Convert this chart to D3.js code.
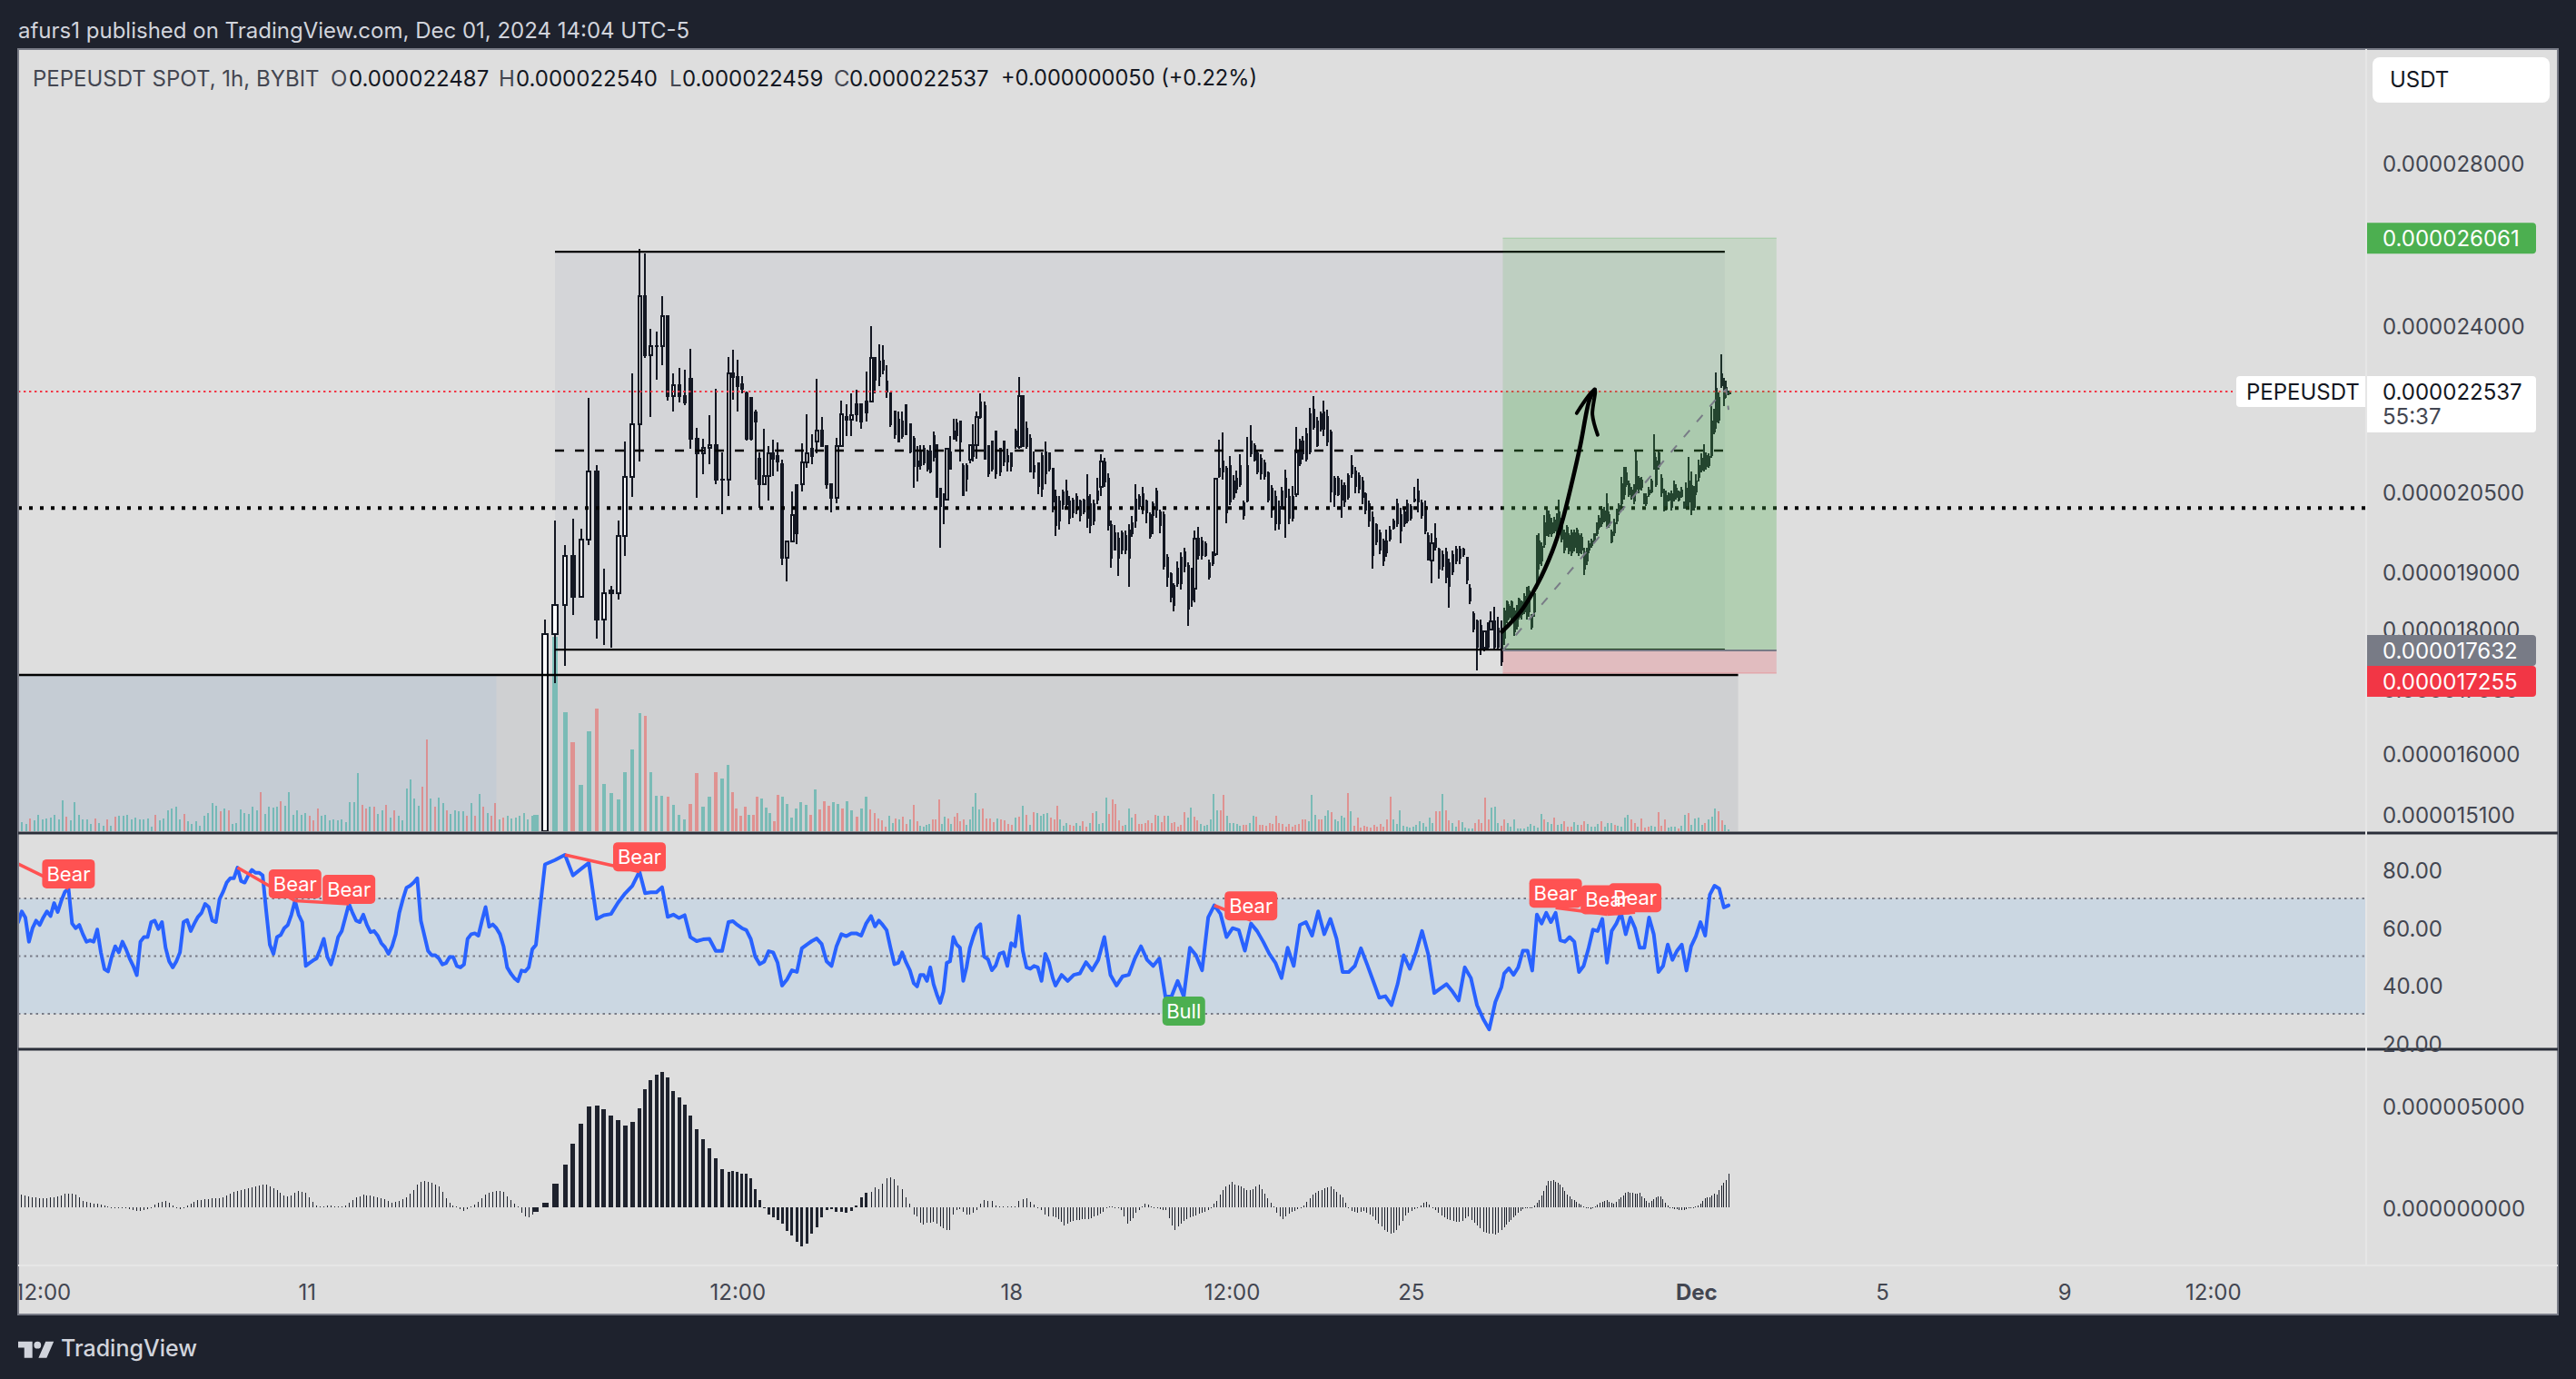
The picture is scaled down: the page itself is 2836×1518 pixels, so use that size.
<!DOCTYPE html>
<html><head><meta charset="utf-8">
<script src="https://cdnjs.cloudflare.com/ajax/libs/d3/7.8.5/d3.min.js"></script>
<style>html,body{margin:0;padding:0;background:#1e222d}svg{display:block}text{font-family:Inter,"Liberation Sans",sans-serif}</style>
</head><body><svg id="c" width="2836" height="1518"></svg>
<script>
// ---- prices are in units of 1e-8 ----
const candlesWide=[[1485,1816,1480,1791],[1791,1994,1709,1840],[1840,1948,1737,1928],[1928,1997,1824,1855],[1855,1979,1855,1958],[1958,2240,1948,2090],[2090,2102,1783,1815],[1815,1906,1772,1862],[1867,1875,1768,1862],[1862,1994,1850,1966],[1966,2150,1928,2079],[2079,2293,2040,2185],[2185,2580,2110,2466],[2466,2568,2326,2332],[2332,2392,2200,2353],[2353,2385,2280,2353],[2353,2466,2310,2420],[2420,2420,2235,2245],[2245,2292,2212,2268],[2268,2305,2230,2245],[2245,2300,2225,2230],[2281,2347,2135,2155],[2155,2178,2037,2125],[2125,2155,2083,2136],[2136,2203,2104,2142],[2142,2260,2065,2073],[2073,2128,2007,2073],[2073,2328,2042,2293],[2293,2345,2236,2285],[2285,2322,2212,2265],[2270,2287,2250,2260],[2250,2253,2151,2155],[2240,2240,2152,2155],[2210,2215,2073,2190],[2115,2128,2018,2065],[2065,2175,2064,2081],[2081,2140,2032,2126],[2126,2153,2080,2115],[2120,2147,2090,2110],[2103,2112,1912,1925],[1925,1955,1882,1955],[1955,2050,1955,2005],[2063,2063,1950,1971],[2064,2146,2050,2107],[2107,2205,2096,2126],[2135,2165,2103,2120],[2150,2282,2125,2172],[2172,2200,2140,2140],[2140,2140,2055,2065],[2065,2065,2010,2038],[2038,2157,2027,2140],[2140,2235,2140,2205],[2200,2227,2161,2195],[2195,2250,2161,2203],[2226,2258,2190,2205],[2226,2226,2175,2190],[2232,2296,2190,2209],[2232,2398,2232,2326],[2326,2326,2250,2279],[2318,2357,2265,2286],[2320,2354,2290,2300],[2275,2310,2240,2253],[2250,2250,2180,2185],[2212,2212,2155,2165],[2195,2212,2150,2150],[2190,2212,2155,2160],[2225,2225,2165,2165],[2185,2186,2125,2130],[2155,2160,2057,2100],[2110,2140,2070,2100],[2128,2142,2093,2102],[2135,2142,2102,2108],[2130,2133,2090,2095],[2130,2142,2085,2090],[2160,2170,2110,2118],[2142,2142,2040,2040],[2055,2055,1943,2022],[2045,2045,1987,2034],[2034,2135,2034,2135],[2128,2160,2095,2095],[2170,2197,2155,2155],[2187,2197,2150,2163],[2190,2190,2110,2150],[2100,2105,2043,2043],[2100,2105,2050,2075],[2112,2142,2105,2142],[2142,2185,2110,2120],[2142,2211,2115,2200],[2230,2250,2197,2200],[2222,2232,2115,2115],[2140,2140,2078,2085],[2150,2150,2090,2095],[2170,2170,2075,2085],[2135,2135,2080,2090],[2150,2150,2100,2110],[2120,2135,2090,2110],[2125,2125,2090,2100],[2170,2175,2135,2140],[2138,2285,2135,2245],[2245,2245,2140,2140],[2175,2190,2135,2140],[2155,2165,2087,2090],[2100,2130,2075,2090],[2105,2105,2045,2060],[2120,2128,2040,2055],[2128,2150,2065,2085],[2125,2125,2090,2095],[2095,2095,2010,2030]];
const candlesDense=[[2040,2054,1966,1985],[2030,2041,1977,1995],[2048,2054,2015,2025],[2050,2073,2015,2025],[2030,2041,1987,2000],[2032,2038,2000,2010],[2040,2046,2006,2015],[2030,2035,1993,2005],[2032,2036,2006,2012],[2040,2083,1980,2000],[2025,2044,1971,1985],[2025,2035,1986,1995],[2050,2076,2026,2035],[2058,2123,2042,2109],[2108,2117,2058,2070],[2075,2085,1976,1985],[1985,1995,1907,1925],[1970,1986,1938,1940],[1960,1972,1893,1925],[1970,1976,1932,1940],[1965,1976,1932,1940],[1975,1987,1872,1925],[1990,2003,1963,1970],[2035,2064,1980,1995],[2040,2044,2015,2022],[2045,2058,2006,2015],[2030,2035,1989,2010],[2005,2009,1960,1965],[2025,2030,1969,2005],[2050,2057,2000,2015],[2010,2015,1971,1985],[2005,2012,1903,1910],[1925,1932,1872,1890],[1895,1899,1846,1855],[1875,1880,1830,1840],[1905,1918,1872,1880],[1925,1935,1868,1880],[1935,1944,1899,1910],[1910,1917,1804,1835],[1905,1907,1838,1850],[1870,1976,1846,1960],[1960,1983,1921,1930],[1955,1963,1921,1930],[1950,1955,1927,1930],[1915,1921,1885,1890],[1930,1937,1910,1915],[1932,2076,1928,2075],[2095,2153,2076,2080],[2110,2168,2073,2090],[2095,2100,1990,2010],[2100,2120,2024,2030],[2070,2082,2035,2040],[2075,2091,2047,2055],[2100,2124,2058,2065],[2028,2032,1996,2005],[2100,2158,2029,2032],[2150,2183,2118,2125],[2140,2146,2109,2112],[2125,2130,2083,2090],[2115,2124,2073,2085],[2105,2112,2073,2080],[2085,2089,2029,2035],[2055,2062,2000,2015],[2040,2052,1976,1990],[2020,2032,1977,1990],[2050,2058,2015,2020],[2075,2093,1962,2040],[2040,2055,1987,2000],[2040,2060,1992,2000],[2045,2180,2040,2128],[2150,2155,2100,2105],[2150,2161,2112,2125],[2165,2177,2109,2115],[2205,2219,2124,2130],[2215,2244,2173,2180],[2190,2200,2139,2142],[2205,2211,2170,2175],[2210,2235,2161,2175],[2200,2216,2141,2150],[2168,2173,2029,2050],[2075,2081,2020,2045],[2075,2081,2041,2045],[2060,2073,1999,2035],[2060,2067,2020,2030],[2080,2085,2035,2040],[2100,2121,2076,2085],[2090,2099,2047,2060],[2080,2088,2047,2055],[2070,2079,2026,2040],[2045,2049,2006,2015],[2025,2032,1983,1995],[2000,2012,1906,1930],[1985,1989,1949,1955],[1970,1977,1932,1940],[1955,1960,1911,1920],[1955,1977,1927,1935],[1975,1984,1955,1960],[1992,1997,1977,1980],[2025,2036,1983,1990],[2005,2018,1951,1975],[2010,2015,1983,1990],[2025,2034,1989,1995],[2020,2026,1994,2000],[2035,2058,2029,2032],[2050,2075,2009,2030],[2028,2035,1997,2005],[2020,2032,1968,1975],[1965,1972,1920,1922],[1920,1970,1880,1952],[1960,1990,1938,1945],[1940,1944,1888,1905],[1930,1938,1902,1910],[1935,1944,1880,1890],[1915,1924,1836,1875],[1930,1939,1894,1900],[1940,1947,1913,1920],[1940,1947,1913,1925],[1940,1944,1927,1932],[1925,1927,1877,1885],[1870,1877,1843,1848],[1825,1830,1794,1800],[1812,1816,1730,1770],[1805,1815,1755,1768],[1768,1797,1762,1796],[1805,1811,1765,1770],[1798,1829,1797,1812],[1812,1838,1765,1770],[1800,1821,1765,1770],[1790,1814,1738,1745]];
const candlesRally=[[1830,1836,1772,1785],[1845,1849,1810,1815],[1838,1842,1815,1820],[1845,1849,1810,1818],[1830,1836,1788,1795],[1835,1841,1799,1805],[1850,1854,1815,1820],[1845,1849,1815,1825],[1855,1862,1825,1830],[1865,1872,1815,1825],[1865,1875,1820,1830],[1822,1825,1799,1803],[1860,1867,1820,1830],[1945,1967,1870,1880],[1955,1970,1904,1915],[1945,1954,1910,1920],[1990,2005,1943,1950],[2005,2020,1966,1975],[2005,2014,1963,1970],[1990,2000,1963,1970],[1995,2001,1971,1975],[2000,2008,1968,1975],[2010,2034,1977,1985],[1990,2000,1954,1960],[1970,1977,1934,1940],[1980,1985,1943,1950],[1965,1971,1931,1938],[1970,1977,1928,1935],[1970,1977,1936,1945],[1975,1980,1934,1942],[1965,1971,1928,1935],[1962,1971,1931,1940],[1935,1943,1894,1905],[1938,1943,1912,1920],[1950,1957,1934,1940],[1955,1960,1943,1948],[1968,1971,1951,1955],[1985,1991,1966,1970],[1998,2005,1977,1982],[2015,2022,1983,1990],[2012,2020,1991,1995],[2025,2046,1983,1990],[2005,2011,1980,1985],[1972,1977,1951,1955],[1990,1997,1966,1972],[2010,2017,1988,1995],[2022,2028,2005,2010],[2065,2078,2020,2028],[2080,2098,2034,2045],[2085,2098,2058,2065],[2065,2072,2040,2045],[2052,2058,2034,2040],[2058,2064,2025,2032],[2110,2132,2046,2055],[2075,2081,2046,2055],[2072,2078,2052,2058],[2042,2046,2025,2030],[2040,2046,2022,2028],[2052,2058,2040,2045],[2070,2075,2046,2050],[2125,2164,2093,2100],[2110,2119,2058,2065],[2125,2132,2093,2100],[2075,2084,2040,2048],[2045,2055,2011,2018],[2042,2052,2014,2020],[2045,2049,2031,2035],[2045,2052,2014,2020],[2060,2072,2031,2038],[2055,2064,2034,2040],[2048,2052,2031,2035],[2052,2058,2037,2042],[2028,2031,2017,2020],[2055,2067,2017,2022],[2070,2119,2017,2030],[2060,2090,2005,2015],[2050,2061,2014,2020],[2070,2084,2043,2050],[2100,2113,2070,2078],[2115,2125,2087,2092],[2125,2143,2090,2095],[2120,2128,2093,2100],[2118,2125,2096,2102],[2190,2223,2116,2122],[2210,2217,2164,2170],[2260,2295,2176,2190],[2240,2252,2186,2195],[2290,2335,2261,2268],[2270,2284,2223,2240],[2262,2278,2240,2248],[2249,2254,2246,2254]];

// volume: sign gives direction (negative = down bar)
const volumeLeft=[38,30,25,-42,35,55,40,42,45,55,40,102,-48,35,95,55,40,38,25,-42,28,18,-40,18,-48,52,52,55,40,45,40,38,42,15,-55,35,42,68,75,80,38,-58,33,25,32,18,50,60,92,85,-65,75,-70,25,28,72,60,58,80,68,-128,58,80,78,82,-98,85,128,55,68,55,60,-50,-35,-75,50,55,35,40,35,40,30,95,95,192,-88,-75,80,-80,58,68,-88,45,-68,50,35,142,172,108,85,-148,-302,108,-82,112,92,-68,58,68,65,65,-50,92,-52,122,-82,60,-50,-92,40,-45,50,42,45,50,60,40,52,55];
const volumeWide=[567,642,393,-293,153,330,-405,155,125,105,195,270,390,-380,195,117,117,-113,87,55,40,-90,-193,80,113,-195];
const volumeMid=[175,220,-130,-75,-52,-82,55,-55,-115,108,78,60,-33,-120,115,90,45,75,95,88,-55,138,-72,-100,-85,96,90,-75,100,70,-48,75,115,-72,-60,-42,-35,-15,52,28,-42,38,-48,-25,40,-88,-32,18,15,20,25,-40,-38,-105,25,48,-42,25,-48,-60,-32,-40,22,38,82,125,72,-75,-42,-42,-30,42,-40,-35,-25,-20,45,-48,85];
const volumeDense=[-55,22,-62,60,52,56,60,-45,-38,-85,40,18,28,-22,-18,28,18,-32,-15,28,-60,65,25,28,110,-58,-105,-90,-35,-18,22,75,45,-58,-25,-25,-28,-35,-28,-55,52,-30,-52,50,-28,-30,-15,-22,-62,45,78,-48,-35,25,18,20,40,122,70,-68,-120,50,28,28,25,18,-22,-20,28,52,-48,-20,-20,-18,-28,-25,-52,-28,-25,-15,-25,-15,-20,-25,-38,-40,32,120,55,-38,-38,52,68,-62,38,32,52,45,-125,65,-18,-45,-12,-18,-15,-12,-20,-15,-24,-14,-40,-115,38,25,68,18,15,12,15,20,32,28,14,45,28,-65,-65,122,-70,-35,28,15,-35,30,12,10,8,-28,-40,-28,-110,-38,78,80,28,-18];
const volumeRally=[-38,28,14,38,10,10,10,15,25,18,12,58,-38,30,25,-45,22,25,-32,-15,-15,30,22,-22,-32,25,14,15,25,-32,15,28,28,-22,18,15,45,55,-38,-28,15,-42,-12,-15,18,15,-62,-18,-38,12,14,15,-10,18,55,-60,22,42,45,20,-28,38,48,75,-65,-35,20,5];

// RSI samples
const rsiLeft=[61.8,65.5,63.4,55,59.7,62.3,60.8,63.4,65.5,63.9,68.4,65.3,69.2,72.3,73.4,61.3,59.7,60.8,57.6,55,55.5,55,59.2,51.3,45.5,44.7,49.7,53.4,51.3,55,52.4,49.2,46.6,43.4,55,56.6,56.6,61.8,62.3,59.4,61.8,52.9,48.2,46.1,48.2,51.3,61.8,62.5,58.7,61.3,63.6,65,68.1,67,62.3,61.8,69.7,72.3,75.5,77,77,80.7,76,75.5,78,79.9,78.9,78.9,78,65.5,53.9,50.8,56.6,57.3,59.7,60.8,64.4,69.2,64.4,61.8,46.6,47.6,48.5,49.2,52.4,56,49.7,47.1,51.3,56.6,58.7,63.4,68.1,65,62.3,61.8,64.4,60.8,58.3,58.7,57.1,54.5,53.1,50.8,53.4,57.6,65,69.7,73.7,74.4,75.5,77,62.3,57.1,51.8,50.3,50.3,49.2,47.1,47.6,49.7,49.7,46.6,46.1,47.1,56,57.6,57.9,57.1,62.3,67,60.2,61,59.7,57.6,53.4,46.1,44,42.4,41.3,45,44.7,46.1,52.4,53.9];
const rsiWide=[81.8,83.3,85.1,78,80.2,82.3,62.9,64.2,64.6,68.6,71.8,74.4,79.3,71.8,72.1,72.1,73.9,63.6,64.4,63.2,64.2,56.6,55.2,55.8,56,51.8,51.8,61.8,62.1,60.8,59.7,59,55.9,49.8,47.2,48.1,51.7,51.3,47.7,39.8,41.9,45.1,44.5,52.7,54,55.2,56.1,54.2,48.2,46.6,53.4,57.6,56.9,57.9,57.9,57.1,61.3,63.9,60.3,62.3,60.8,59,52.9,47.2,47.7,51.3,47.9,45.1,40.6,39.5,43.5,43.5,41.4,46.1,40.3,36.7,33.8,37.7,47.7,48.2,56.6,54,52.9,41.4,46.1,52.9,56.6,59.7,61.1,49.8,48.9,45.1,46.8,50.8,51.3,46.6,54.5,53.4,63.9,51.9,46.1,45.6,46.6,46.1,41.4,50.8,47.7,42.4];
const rsiDense=[39.8,43.5,41.4,43.5,44,47.9,45.1,48.7,56.6,43.5,39.8,43,43.5,49.2,53.4,48.7,46.6,49.2,35.9,36.1,41.4,36.1,52.9,50.3,45.1,63.4,67.6,64.7,56.6,59.7,59,51.9,61.3,58.7,55,50.8,47.7,42.4,52.9,46.6,60.8,61.8,57.1,65.5,57.6,62.9,56.1,44.5,44.5,46.6,52.7,47.2,41.4,35.6,36.1,33,40.3,50.3,45.6,51.3,58.7,50.8,37.2,38.8,40.3,37.7,34.6,46.1,42.4,33,28.3,24.6,34.1,39.3];
const rsiRally=[44,45.8,43.5,46.1,51.9,51.9,45,64.4,61.3,65,61.8,65,55.5,55,56.6,55,44.5,46.6,52.4,59.2,58.7,62.9,47.7,58.7,61.3,65,57.6,63.4,59.7,52.9,52.9,63.4,57.6,44.5,46.6,54,48.7,51.9,54,45,53.4,56.9,61.8,57.1,71.3,74.4,73.4,66.9,67.6];
const rsiBandLevels=[70,50,30];
// divergence pivots: [sample, rsi] pairs
const signalKinds=["Bear","Bear","Bear","Bear","Bear","Bull","Bear","Bear","Bear"];
const signalSamples=[14,77,92,157,285,274,338,349,355];
const signalLevels=[73.5,70,68.1,79.4,62.4,36,66.8,64.5,65.2];
const divergenceFrom=[[0,82],[61,80.7],[77,69.2],[147,85.1],[279,67.6],[338,66.8],[349,64.5]];
const divergenceTo=[[14,73.4],[77,69.2],[92,68.1],[157,79.3],[285,62.4],[349,64.5],[355,65.2]];

// MACD histogram (units of 1e-8)
const macdLeft=[71,62,58,54,49,49,45,45,45,49,49,54,58,67,67,67,62,49,31,27,22,18,18,13,9,4,0,-4,-4,-4,-4,-9,-13,-18,-18,-13,-9,-4,13,22,27,31,22,9,-4,-9,-4,9,18,27,36,36,40,40,45,45,45,49,58,67,76,80,85,89,94,98,103,107,112,112,103,94,85,71,58,54,58,71,80,76,71,49,27,9,4,4,9,9,4,4,4,9,22,36,49,54,62,58,58,54,49,45,40,31,22,27,31,40,49,67,85,112,125,129,125,120,112,103,76,45,22,9,4,-9,-18,-9,4,13,27,45,62,71,76,80,80,76,54,36,18,4,-27,-45,-49,-36,-22];
const macdWide=[22,116,210,312,410,495,500,482,452,430,401,419,486,580,624,653,664,638,571,538,505,449,384,334,288,241,187,174,178,173,166,164,144,90,36,-5,-34,-49,-61,-79,-116,-138,-168,-190,-178,-131,-98,-49,-12,-9,-22,-22,-27,-19,8,48,70,76,97,89,114,144,147,137,107,88,48,18,-36,-45,-76,-85,-76,-76,-71,-80,-94,-103,-112,-112,-36,-13,-9,-22,-36,-36,-27,-13,18,36,31,31,9,4,4,4,4,4,31,40,45,27,13,-4,-13,-36,-45,-45];
const macdDense=[-49,-58,-71,-89,-80,-71,-67,-62,-62,-58,-58,-58,-54,-45,-40,-31,-22,-4,4,4,2,-4,-13,-45,-80,-67,-54,-27,-13,4,18,13,4,0,-4,-9,-13,-13,-54,-89,-112,-94,-80,-67,-58,-49,-45,-40,-31,-27,-22,-13,0,18,31,62,85,103,112,125,112,107,103,94,85,85,89,103,112,89,67,45,22,4,-27,-45,-58,-45,-31,-22,-18,-9,-4,9,27,45,62,71,80,85,94,98,103,89,76,62,49,22,0,-18,-22,-27,-22,-18,-27,-36,-45,-62,-80,-94,-112,-120,-129,-125,-112,-89,-67,-40,-27,-18,-9,-4,9,22,27,13,-4,-13,-27,-40,-49,-58,-62,-67,-71,-71,-67,-54,-45,-62,-76,-89,-103,-120,-125,-129,-129,-134,-125,-112];
const macdRally=[-98,-85,-71,-62,-49,-40,-27,-18,-9,-4,-4,0,0,9,22,36,58,80,107,129,129,134,125,120,112,98,80,62,54,40,36,27,18,13,4,0,-4,-9,-4,4,13,22,27,31,36,27,22,18,27,40,49,58,71,76,71,71,67,67,71,54,45,31,22,31,40,49,54,54,40,22,9,0,-4,-9,-9,-13,-13,-13,-9,-4,-4,0,4,9,18,31,45,49,49,58,67,62,85,107,120,134,165];

const priceTicks=[2800,2400,2050,1900,1800,1700,1600,1510];
const rsiTicks=[80,60,40,20];
const macdTicks=[500,0];
const timeTickLabels=["12:00","11","12:00","18","12:00","25","Dec","5","9","12:00"];
const ENTRY=1763.2, TARGET=2606.1, STOP=1725.5, LAST=2253.7;
const RANGE_TOP=2573, RANGE_BOTTOM=1764.5, RANGE_MID=2131, MAJOR=2018, LOWER=1722.6;
const arrowBars=[-0.8,6.7,13.4,19.3,23,27.3,30.6,34.2,36.3];
const arrowPrices=[1795,1830,1878,1937,1988,2070,2143,2236,2258];
const arrowHeadBars=[29.1,36.3,35.4,37.5];
const arrowHeadPrices=[2208,2258,2205,2163];

// ---- sections ----
const leftN=145, wideN=candlesWide.length, denseN=candlesDense.length, rallyN=candlesRally.length;
const wideStart=leftN, denseStart=wideStart+wideN, rallyStart=denseStart+denseN, lastBar=rallyStart+rallyN-1;
const c=k=>wideStart+k-1;
const x=d3.scaleLinear()
 .domain([0,144,c(1),c(3),c(7),c(13),c(22),c(28),c(40),c(58),c(69),c(88),c(100),c(108),denseStart,rallyStart-1,rallyStart,lastBar,lastBar+300])
 .range([20,590,600,622,657,704,760,802,861,959,1006,1075,1126,1159,1162,1653,1656,1903,2695]);
const yP=d3.scaleLog().domain([1510,2800]).range([896,179]);
const yR=d3.scaleLinear().domain([30,70]).range([1116,989]);
const yM=d3.scaleLinear().domain([0,500]).range([1329,1217]);
const yV=d3.scaleLinear().domain([0,642]).range([915,701]);
const spread=(arr,a,b)=>arr.map((v,i)=>({bar:arr.length>1?a+(b-a)*i/(arr.length-1):a,v}));
const svg=d3.select("#c");
const DARK="#131722";
svg.append("rect").attr("width",2836).attr("height",1518).attr("fill","#1e222d");
svg.append("rect").attr("x",20).attr("y",54).attr("width",2796).attr("height",1393).attr("fill","#dedede").attr("stroke","#787b86").attr("stroke-width",2);
const defs=svg.append("defs");
defs.append("clipPath").attr("id","main").append("rect").attr("x",21).attr("y",55).attr("width",2584).attr("height",860);
defs.append("clipPath").attr("id","plot").append("rect").attr("x",21).attr("y",55).attr("width",2584).attr("height",1337);
defs.append("clipPath").attr("id","time").append("rect").attr("x",21).attr("y",1394).attr("width",2794).attr("height",52);
const main=svg.append("g").attr("clip-path","url(#main)");

// boxes
const rectP=(g,b0,b1,p0,p1,fill,op)=>g.append("rect").attr("x",x(b0)).attr("width",x(b1)-x(b0)).attr("y",yP(p0)).attr("height",yP(p1)-yP(p0)).attr("fill",fill).attr("fill-opacity",op==null?1:op);
rectP(main,c(2),lastBar-1.5,RANGE_TOP,RANGE_BOTTOM,"#d4d5d8");
main.append("rect").attr("x",x(0)).attr("width",x(lastBar+4)-x(0)).attr("y",yP(LOWER)).attr("height",915-yP(LOWER)).attr("fill","#cfd0d2");
main.append("rect").attr("x",x(0)).attr("width",x(133)-x(0)).attr("y",yP(LOWER)).attr("height",915-yP(LOWER)).attr("fill","#c5ccd4");

// volume
const volData=[...spread(volumeLeft,0,144),...volumeWide.map((v,i)=>({bar:c(i+1),v})),...spread(volumeMid,c(27),c(100)),...spread(volumeDense,c(101),rallyStart-1),...spread(volumeRally,rallyStart,lastBar)];
main.append("g").attr("shape-rendering","crispEdges").selectAll("rect").data(volData).join("rect").each(function(d,i){
  const nx=volData[Math.min(i+1,volData.length-1)], s=Math.abs(x(nx.bar)-x(d.bar))||2;
  const w=Math.max(2,Math.round(Math.min(7,s*0.56)));
  d3.select(this).attr("x",Math.round(x(d.bar)-w/2)).attr("width",w).attr("y",yV(Math.abs(d.v))).attr("height",915-yV(Math.abs(d.v)))
   .attr("fill",d.v>=0?"#26a69a":"#ef5350").attr("fill-opacity",0.5);
});

// candles
const allCandles=[...candlesWide,...candlesDense,...candlesRally];
const cg=main.append("g").attr("shape-rendering","crispEdges");
allCandles.forEach((r,i)=>{
  const b=wideStart+i,[o,h,l,cl]=r,up=cl>o;
  const s=i<allCandles.length-1?x(b+1)-x(b):x(b)-x(b-1);
  let w=Math.min(8,s*0.72); w=up?Math.max(i<wideN?Math.min(5,w+2):5,w):Math.max(3.2,w);
  w=Math.round(w);
  const cx=Math.round(x(b));
  cg.append("rect").attr("x",cx-1).attr("width",2).attr("y",yP(h)).attr("height",yP(l)-yP(h)).attr("fill",DARK);
  const top=yP(Math.max(o,cl)),bot=yP(Math.min(o,cl));
  const bx=cx-Math.floor(w/2);
  cg.append("rect").attr("x",bx).attr("width",w).attr("y",top-1).attr("height",Math.max(2,bot-top+2)).attr("fill",DARK);
  if(up&&bot-top>3&&w>=5) cg.append("rect").attr("x",bx+2).attr("width",w-4).attr("y",top+1).attr("height",bot-top-2).attr("fill","#fff");
});

// horizontal drawings
const hLine=(b0,b1,p,col,w,dash)=>{const l=main.append("line").attr("x1",x(b0)).attr("x2",x(b1)).attr("y1",yP(p)).attr("y2",yP(p)).attr("stroke",col).attr("stroke-width",w);if(dash)l.attr("stroke-dasharray",dash);return l;};
hLine(c(2),lastBar-1.5,RANGE_TOP,"#000",2.4);
hLine(c(2),lastBar-1.5,RANGE_BOTTOM,"#000",2.4);
hLine(c(2),lastBar-1.5,RANGE_MID,"#000",2.4,"10 12");
hLine(0,lastBar+300,MAJOR,"#000",4,"4 8");
hLine(0,lastBar+4,LOWER,"#000",2.4);
main.append("line").attr("x1",20).attr("x2",2458).attr("y1",yP(LAST)).attr("y2",yP(LAST)).attr("stroke","#f23645").attr("stroke-width",2.2).attr("stroke-dasharray","2.4 3.6");

// long position tool
rectP(main,rallyStart-0.5,lastBar+20,TARGET,ENTRY,"#4caf50",0.165);
rectP(main,rallyStart-0.5,lastBar+20,LAST,ENTRY,"#4caf50",0.165);
rectP(main,rallyStart-0.5,lastBar+20,ENTRY,STOP,"#f23645",0.2);
main.append("line").attr("x1",x(rallyStart-0.5)).attr("x2",x(lastBar+20)).attr("y1",yP(ENTRY)).attr("y2",yP(ENTRY)).attr("stroke","#787b86").attr("stroke-width",2);
main.append("line").attr("x1",x(rallyStart-0.5)).attr("x2",x(lastBar+20)).attr("y1",yP(TARGET)).attr("y2",yP(TARGET)).attr("stroke","#4caf50").attr("stroke-opacity",.25).attr("stroke-width",1.5);
main.append("line").attr("x1",x(rallyStart-0.5)).attr("x2",x(lastBar+20)).attr("y1",yP(STOP)).attr("y2",yP(STOP)).attr("stroke","#f23645").attr("stroke-opacity",.2).attr("stroke-width",1.5);
main.append("path").attr("d",d3.line().x(d=>x(d[0])).y(d=>yP(d[1]))([[rallyStart-0.5,ENTRY],[lastBar-3,2250],[lastBar-1,2258],[lastBar,2215]])).attr("fill","none").attr("stroke","#787b86").attr("stroke-width",2).attr("stroke-dasharray","10 12");

// hand-drawn arrow
const ln=d3.line().x(d=>x(rallyStart+d[0])).y(d=>yP(d[1]));
main.append("path").attr("d",ln.curve(d3.curveCatmullRom)(arrowBars.map((b,i)=>[b,arrowPrices[i]]))).attr("fill","none").attr("stroke","#000").attr("stroke-width",4.6).attr("stroke-linecap","round");
main.append("path").attr("d",ln.curve(d3.curveCatmullRom)(arrowHeadBars.map((b,i)=>[b,arrowHeadPrices[i]]))).attr("fill","none").attr("stroke","#000").attr("stroke-width",4).attr("stroke-linecap","round").attr("stroke-linejoin","round");

// panes
const plot=svg.append("g").attr("clip-path","url(#plot)");
plot.append("rect").attr("x",20).attr("width",2585).attr("y",yR(70)).attr("height",yR(30)-yR(70)).attr("fill","#cbd7e2");
rsiBandLevels.forEach(v=>plot.append("line").attr("x1",20).attr("x2",2605).attr("y1",yR(v)).attr("y2",yR(v)).attr("stroke","#787b86").attr("stroke-width",2).attr("stroke-dasharray","2.5 4"));
const rsiPts=[...spread(rsiLeft,0,144),...rsiWide.map((v,i)=>({bar:c(i+1),v})),...spread(rsiDense,denseStart,rallyStart-1),...spread(rsiRally,rallyStart,lastBar)];
plot.append("path").attr("d",d3.line().x(d=>x(d.bar)).y(d=>yR(d.v))(rsiPts)).attr("fill","none").attr("stroke","#2962ff").attr("stroke-width",4).attr("stroke-linejoin","round").attr("stroke-linecap","round");
divergenceFrom.forEach((f,i)=>{const t=divergenceTo[i];
  plot.append("line").attr("x1",x(rsiPts[f[0]].bar)).attr("y1",yR(f[1])).attr("x2",x(rsiPts[t[0]].bar)).attr("y2",yR(t[1])).attr("stroke","#ff5252").attr("stroke-width",3.6);});
const sigBox=i=>{const k=signalKinds[i],bull=k==="Bull",w=bull?47:58,h=32;return {k,bull,w,h,cx:x(rsiPts[signalSamples[i]].bar),yTop:bull?yR(signalLevels[i]):yR(signalLevels[i])-h};};
signalKinds.forEach((k,i)=>{const b=sigBox(i);
  plot.append("rect").attr("x",b.cx-b.w/2).attr("y",b.yTop).attr("width",b.w).attr("height",b.h).attr("rx",5).attr("fill",b.bull?"#4caf50":"#ff5252");});
signalKinds.forEach((k,i)=>{const b=sigBox(i);
  plot.append("text").attr("x",b.cx).attr("y",b.yTop+b.h/2).attr("dy",".36em").attr("text-anchor","middle").attr("font-size",22).attr("fill","#fff").text(k);});
// MACD histogram
const macdPts=[...spread(macdLeft,0,144),...macdWide.map((v,i)=>({bar:c(i+1),v})),...spread(macdDense,denseStart,rallyStart-1),...spread(macdRally,rallyStart,lastBar)];
plot.append("g").attr("shape-rendering","crispEdges").selectAll("rect").data(macdPts).join("rect").each(function(d,i){
  const nx=macdPts[Math.min(i+1,macdPts.length-1)],s=Math.abs(x(nx.bar)-x(d.bar))||2,w=s<4.6?1:Math.round(s*0.62);
  d3.select(this).attr("x",Math.round(x(d.bar)-w/2)).attr("width",w).attr("y",Math.min(yM(d.v),yM(0))).attr("height",Math.max(1,Math.abs(yM(d.v)-yM(0)))).attr("fill","#1e222d");
});

// separators
[917,1155].forEach(y=>svg.append("line").attr("x1",20).attr("x2",2816).attr("y1",y).attr("y2",y).attr("stroke","#2a2e39").attr("stroke-width",3));
svg.append("line").attr("x1",20).attr("x2",2816).attr("y1",1393).attr("y2",1393).attr("stroke","#e6e6e6").attr("stroke-width",2);
svg.append("line").attr("x1",2605).attr("x2",2605).attr("y1",54).attr("y2",1393).attr("stroke","#e6e6e6").attr("stroke-width",2);

// axes
const axisStyle=g=>{g.select(".domain").remove();g.selectAll("text").attr("font-size",24).attr("fill","#434651").attr("font-family","Inter").attr("dy",".4em");};
const priceFmt=d=>(d*1e-8).toFixed(9);
svg.append("g").attr("transform","translate(2623,0)").call(d3.axisRight(yP).tickValues(priceTicks).tickSize(0).tickPadding(0).tickFormat(priceFmt)).call(axisStyle);
svg.append("g").attr("transform","translate(2623,0)").call(d3.axisRight(yR).tickValues(rsiTicks).tickSize(0).tickPadding(0).tickFormat(d=>d.toFixed(2))).call(axisStyle);
svg.append("g").attr("transform","translate(2623,0)").call(d3.axisRight(yM).tickValues(macdTicks).tickSize(0).tickPadding(0).tickFormat(priceFmt)).call(axisStyle);
const timeTickBars=[6.8,80.3,c(30),c(97),denseStart+50.6,denseStart+102,rallyStart+77,lastBar+64,lastBar+140,lastBar+202];
const tg=svg.append("g").attr("clip-path","url(#time)").append("g").attr("transform","translate(0,1422)")
 .call(d3.axisBottom(x).tickValues(timeTickBars).tickSize(0).tickPadding(0).tickFormat((d,i)=>timeTickLabels[i])).call(axisStyle);
tg.selectAll("text").attr("y",0).attr("dy",".36em").attr("font-weight",(d,i)=>timeTickLabels[i]==="Dec"?700:400);

// price labels
const tag=(p,nudge,fill,txt,tc)=>{const yc=yP(p)+nudge;
  svg.append("path").attr("d",`M2606 ${yc-17}H2788a4 4 0 0 1 4 4V${yc+13}a4 4 0 0 1 -4 4H2606Z`).attr("fill",fill);
  svg.append("text").attr("x",2623).attr("y",yc).attr("dy",".38em").attr("font-size",24).attr("fill",tc).text(txt);};
tag(TARGET,0,"#4caf50","0.000026061","#fff");
tag(ENTRY,0,"#787b86","0.000017632","#fff");
tag(STOP,9,"#f23645","0.000017255","#fff");
svg.append("path").attr("d","M2606 414H2788a4 4 0 0 1 4 4V472a4 4 0 0 1 -4 4H2606Z").attr("fill","#fff");
svg.append("text").attr("x",2623).attr("y",yP(LAST)).attr("dy",".38em").attr("font-size",24).attr("fill","#131722").text("0.000022537");
svg.append("text").attr("x",2623).attr("y",458).attr("dy",".38em").attr("font-size",24).attr("fill","#434651").text("55:37");
svg.append("path").attr("d","M2604 414H2466a4 4 0 0 0 -4 4V444a4 4 0 0 0 4 4H2604Z").attr("fill","#fff");
svg.append("text").attr("x",2473).attr("y",yP(LAST)).attr("dy",".38em").attr("font-size",24).attr("fill","#131722").text("PEPEUSDT");
svg.append("rect").attr("x",2612).attr("y",63).attr("width",195).attr("height",50).attr("rx",8).attr("fill","#fff");
svg.append("text").attr("x",2631).attr("y",87).attr("dy",".36em").attr("font-size",24).attr("fill","#131722").text("USDT");

// header + legend
svg.append("text").attr("x",20).attr("y",33).attr("dy",".36em").attr("font-size",24).attr("fill","#d1d4dc").text("afurs1 published on TradingView.com, Dec 01, 2024 14:04 UTC-5");
const legend=[[36,"PEPEUSDT SPOT, 1h, BYBIT","#434651"],[364,"O","#434651"],[384,"0.000022487","#131722"],[549,"H","#434651"],[568,"0.000022540","#131722"],[737,"L","#434651"],[751,"0.000022459","#131722"],[918,"C","#434651"],[935,"0.000022537","#131722"],[1102,"+0.000000050 (+0.22%)","#131722"]];
legend.forEach(l=>svg.append("text").attr("x",l[0]).attr("y",86).attr("dy",".36em").attr("font-size",l[1].length>20&&l[0]>1000?23.6:24).attr("fill",l[2]).text(l[1]));

// footer
svg.append("path").attr("transform","translate(20,1470) scale(1.12)").attr("d","M14 6H0v6h6v10h8V6zM28 22h-8l7-16h8l-7 16zM19 13a3.5 3.5 0 1 0 0-7 3.5 3.5 0 0 0 0 7z").attr("fill","#d1d4dc");
svg.append("text").attr("x",67).attr("y",1484).attr("dy",".36em").attr("font-size",25).attr("font-weight",500).attr("fill","#d1d4dc").text("TradingView");
</script></body></html>
